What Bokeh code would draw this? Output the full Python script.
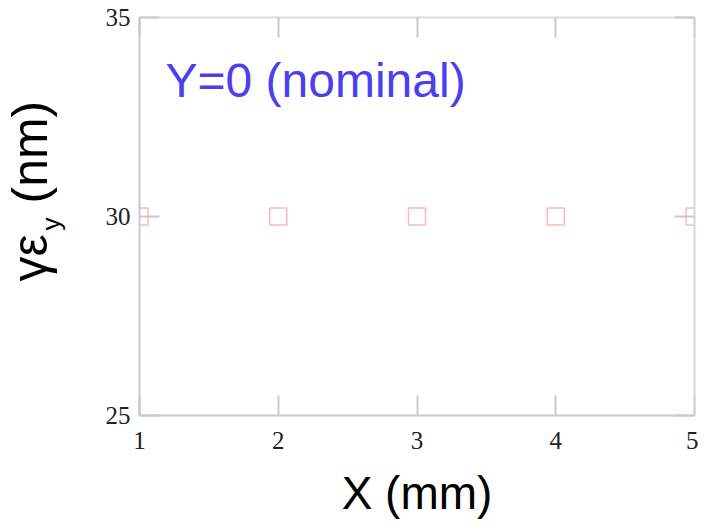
from bokeh.plotting import figure
from bokeh.layouts import row
from bokeh.models import LinearAxis, FixedTicker, Label, Range1d, CustomJSTickFormatter
from bokeh.core.properties import value
from bokeh.embed import file_html
from bokeh.resources import INLINE

# data
x_mm = [1, 2, 3, 4, 5]
emit_y = [30, 30, 30, 30, 30]
x_ticks = [1, 2, 3, 4, 5]
y_ticks = [25, 30, 35]
title_text = "Y=0 (nominal)"
x_label = "X (mm)"
y_label_main = "γε"
y_label_sub = "y"
y_label_unit = "(nm)"

AXIS_GRAY = "#c9c9c9"
FONT = "Liberation Sans"
TICK_FONT = "Liberation Serif"
H = 521
LW = 80
FRAME_TOP = 17
FRAME_BOTTOM = 415

# ---- narrow panel holding the composed y-axis title ----
# (its frame is aligned with the main plot's frame; y range = pixels from canvas bottom)
lf = figure(width=LW, height=H, output_backend="svg", toolbar_location=None,
            x_range=Range1d(0, LW), y_range=Range1d(H - FRAME_BOTTOM, H - FRAME_TOP),
            min_border_left=0, min_border_right=0, min_border_top=FRAME_TOP,
            min_border_bottom=H - FRAME_BOTTOM, x_axis_location=None, y_axis_location=None)
lf.outline_line_color = None
lf.xgrid.visible = False
lf.ygrid.visible = False
ang = 1.5707963267948966
lf.text(x=[29], y=[240], text=[y_label_main], angle=ang,
        text_font=value(FONT), text_font_size="50px", text_color="black",
        text_align="left", text_baseline="middle")
lf.text(x=[50], y=[291], text=[y_label_sub], angle=ang,
        text_font=value(FONT), text_font_size="26px", text_color="black",
        text_align="left", text_baseline="middle")
lf.text(x=[29], y=[318], text=[y_label_unit], angle=ang,
        text_font=value(FONT), text_font_size="50px", text_color="black",
        text_align="left", text_baseline="middle")

# ---- main plot ----
p = figure(width=698 - LW, height=H, output_backend="svg", toolbar_location=None,
           x_range=Range1d(1, 5), y_range=Range1d(25, 35),
           min_border_left=139 - LW, min_border_right=4, min_border_top=FRAME_TOP,
           min_border_bottom=H - FRAME_BOTTOM, x_axis_location=None, y_axis_location=None)
p.outline_line_color = None
p.xgrid.visible = False
p.ygrid.visible = False


def style_axis(ax, ticks, labels=True, standoff=10):
    ax.ticker = FixedTicker(ticks=ticks)
    ax.axis_line_color = AXIS_GRAY
    ax.axis_line_width = 2
    ax.major_tick_line_color = AXIS_GRAY
    ax.major_tick_line_width = 2
    ax.major_tick_in = 20
    ax.major_tick_out = 0
    ax.minor_tick_line_color = None
    if labels:
        ax.major_label_text_font = TICK_FONT
        ax.major_label_text_font_size = "25px"
        ax.major_label_text_color = "#222222"
        ax.major_label_standoff = standoff
    else:
        ax.formatter = CustomJSTickFormatter(code="return ''")
        ax.major_label_standoff = 0


bottom = LinearAxis()
style_axis(bottom, x_ticks, True, 16)
bottom.axis_label = x_label
bottom.axis_label_text_font = FONT
bottom.axis_label_text_font_size = "46px"
bottom.axis_label_text_font_style = "normal"
bottom.axis_label_text_color = "black"
bottom.axis_label_standoff = 15
p.add_layout(bottom, "below")

left = LinearAxis()
style_axis(left, y_ticks, True, 9)
p.add_layout(left, "left")

top = LinearAxis()
style_axis(top, x_ticks, False)
top.axis_line_color = "#dedede"
p.add_layout(top, "above")

right = LinearAxis()
style_axis(right, y_ticks, False)
right.axis_line_color = "#d6d6d6"
p.add_layout(right, "right")

p.scatter(x_mm, emit_y, marker="square", size=17, fill_color=None,
          line_color="#ffb8b8", line_width=1.5)

p.add_layout(Label(x=26, y=335, x_units="screen", y_units="screen", text=title_text,
                   text_font=FONT, text_font_size="48px", text_color="#4c40ee",
                   text_align="left", text_baseline="alphabetic"))

layout = row(lf, p)
open("out.html", "w").write(file_html(layout, INLINE))
